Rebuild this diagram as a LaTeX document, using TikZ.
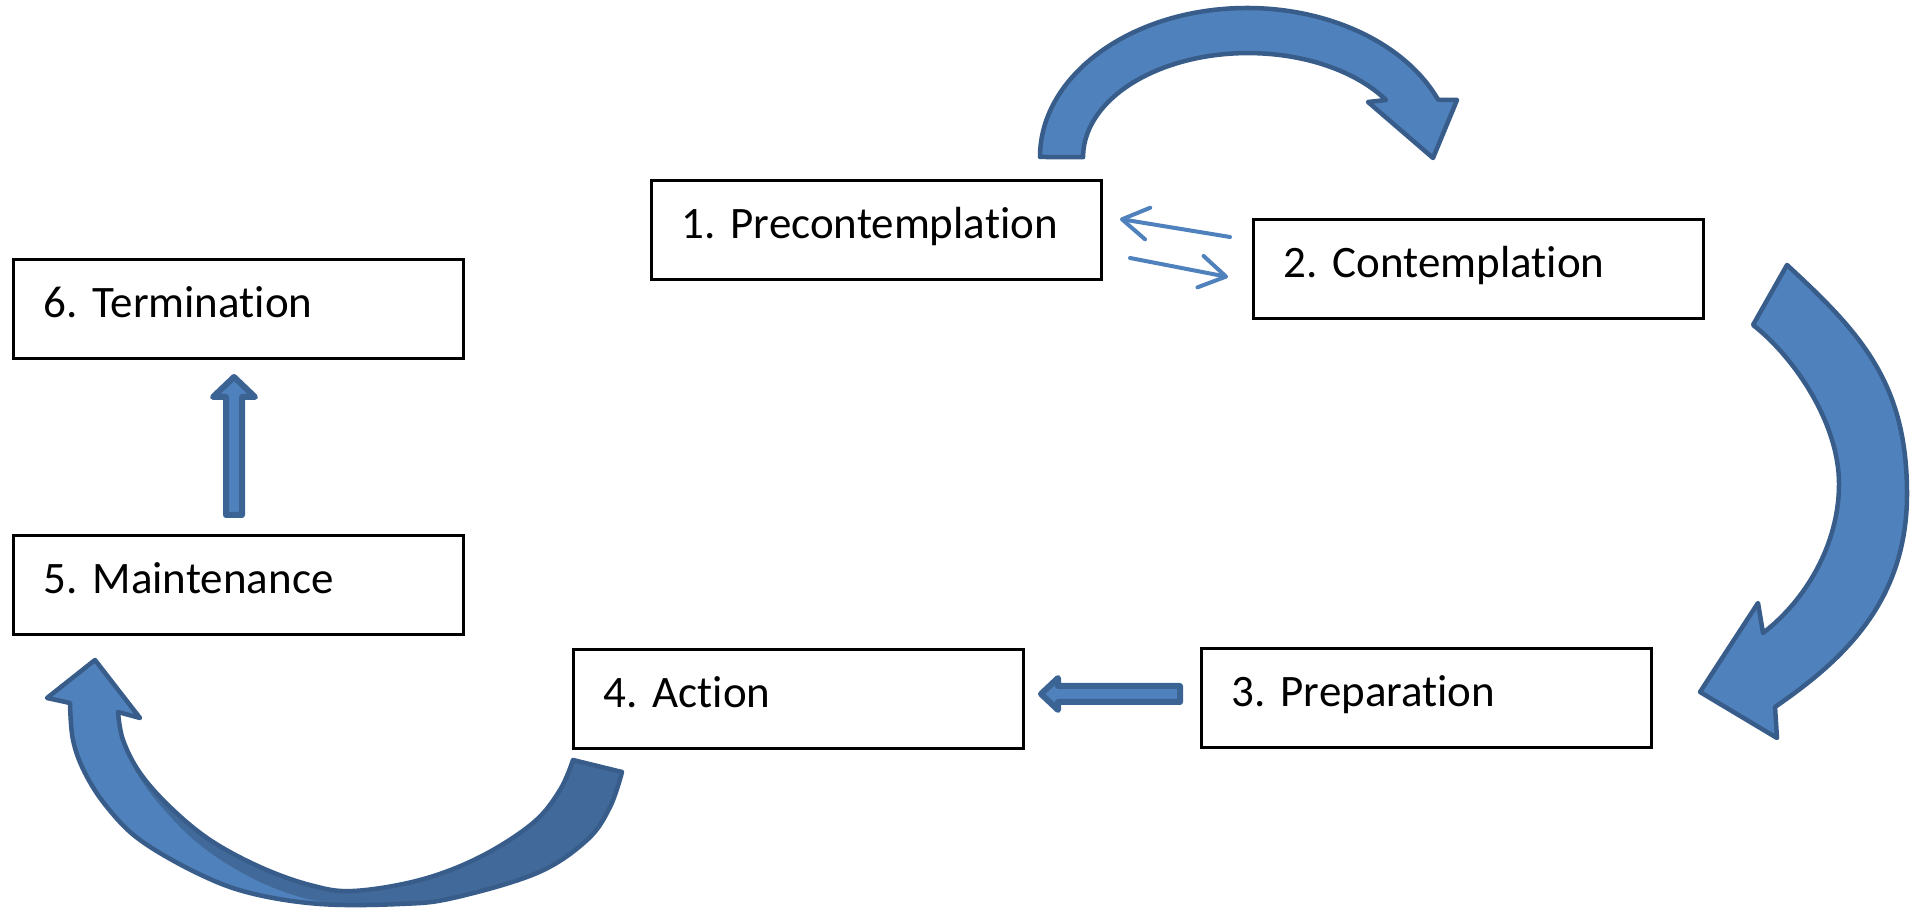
\documentclass[tikz,border=0pt]{standalone}
\usepackage{fontspec}
\setmainfont{Carlito}[Ligatures=NoCommon]
\usetikzlibrary{arrows.meta}
\definecolor{afill}{HTML}{4F81BD}
\definecolor{aline}{HTML}{385D8A}
\definecolor{adark}{HTML}{41699A}
\definecolor{bline}{HTML}{3B6494}
\newcommand\arrowCshape{plot[smooth,tension=0.6] coordinates {(70,206) (73,169) (85,136) (107,102) (140,69) (197,36) (250,16) (320,5) (400,5) (453,11) (537,36) (587,69) (610,102) (622,137)} -- plot[smooth,tension=0.6] coordinates {(573,149) (560,119) (533,86) (480,52) (420,29) (353,18) (310,24) (260,42) (210,69) (170,102) (140,136) (123,169) (118,197)} -- (140,191) -- (95,249) -- (47,211) -- cycle}
\frenchspacing
\begin{document}
\begin{tikzpicture}[x=1pt,y=1pt,
  stagebox/.style={draw=black, line width=3pt, fill=white, anchor=north west,
    inner xsep=30pt, inner ysep=0pt, text height=58pt, text depth=41pt,
    text width=390pt, align=left, font=\fontsize{45}{54}\selectfont},
  bigarrow/.style={fill=afill, draw=aline, line width=4.5pt, line join=round},
  blockarrow/.style={fill=afill, draw=bline, line width=6pt, line join=round},
  thinarrow/.style={draw=afill, line width=4pt, line cap=round,
    -{Straight Barb[round,length=26pt,width=32pt]}}]
\fill[white] (0,0) rectangle (1911,909);
\useasboundingbox (0,0) rectangle (1911,909);

% stage boxes
\node[stagebox] (b1) at (650,730) {1. Precontemplation};
\node[stagebox] (b2) at (1252,691) {2. Contemplation};
\node[stagebox] (b3) at (1200,262) {3. Preparation};
\node[stagebox] (b4) at (572,261) {4. Action};
\node[stagebox] (b5) at (12,375) {5. Maintenance};
\node[stagebox] (b6) at (12,651) {6. Termination};

% thin arrows between 1 and 2
\coordinate (t1s) at (1230,672);
\coordinate (t1e) at (1120,690);
\coordinate (t2s) at (1130,651);
\coordinate (t2e) at (1228,632);
\draw[thinarrow] (t1s) -- (t1e);
\draw[thinarrow] (t2s) -- (t2e);

% big curved arrow 1 -> 2
\filldraw[bigarrow] (1040,752) arc[start angle=180, end angle=22.6, x radius=207pt, y radius=149pt]
  -- (1457,809) -- (1433,751) -- (1368,807) -- (1386,809)
  arc[start angle=33.3, end angle=180, x radius=165pt, y radius=104pt] -- cycle;

% big curved arrow 2 -> 3
\filldraw[bigarrow] (1787,644)
  .. controls (1862,575) and (1907,525) .. (1907,415)
  .. controls (1907,305) and (1840,247) .. (1775,202)
  -- (1777,171) -- (1700,217) -- (1758,306) -- (1763,276)
  .. controls (1806,309) and (1839,365) .. (1839,425)
  .. controls (1839,487) and (1793,553) .. (1753,584) -- cycle;

% block arrow 3 -> 4
\filldraw[blockarrow] (1180,223) -- (1058,223) -- (1058,231) -- (1041,215) -- (1058,199) -- (1058,207) -- (1180,207) -- cycle;

% big curved arrow 4 -> 5
\fill[afill] \arrowCshape;
\begin{scope}
\clip \arrowCshape;
\fill[adark] plot[smooth,tension=0.6] coordinates {(125,164) (140,136) (170,102) (210,69) (260,42) (310,24) (353,18) (420,29) (480,52) (533,86) (560,119) (573,149)}
  -- (622,137)
  -- plot[smooth,tension=0.6] coordinates {(622,137) (610,102) (587,69) (537,36) (453,11) (400,5) (345,4)}
  -- plot[smooth,tension=0.6] coordinates {(345,4) (300,12) (250,32) (200,64) (160,104) (135,139) (125,164)} -- cycle;
\end{scope}
\draw[aline, line width=4.5pt, line join=round] \arrowCshape;

% block arrow 5 -> 6
\filldraw[blockarrow] (226,394) -- (226,512) -- (213,512) -- (234,532) -- (255,512) -- (242,512) -- (242,394) -- cycle;
\end{tikzpicture}
\end{document}
